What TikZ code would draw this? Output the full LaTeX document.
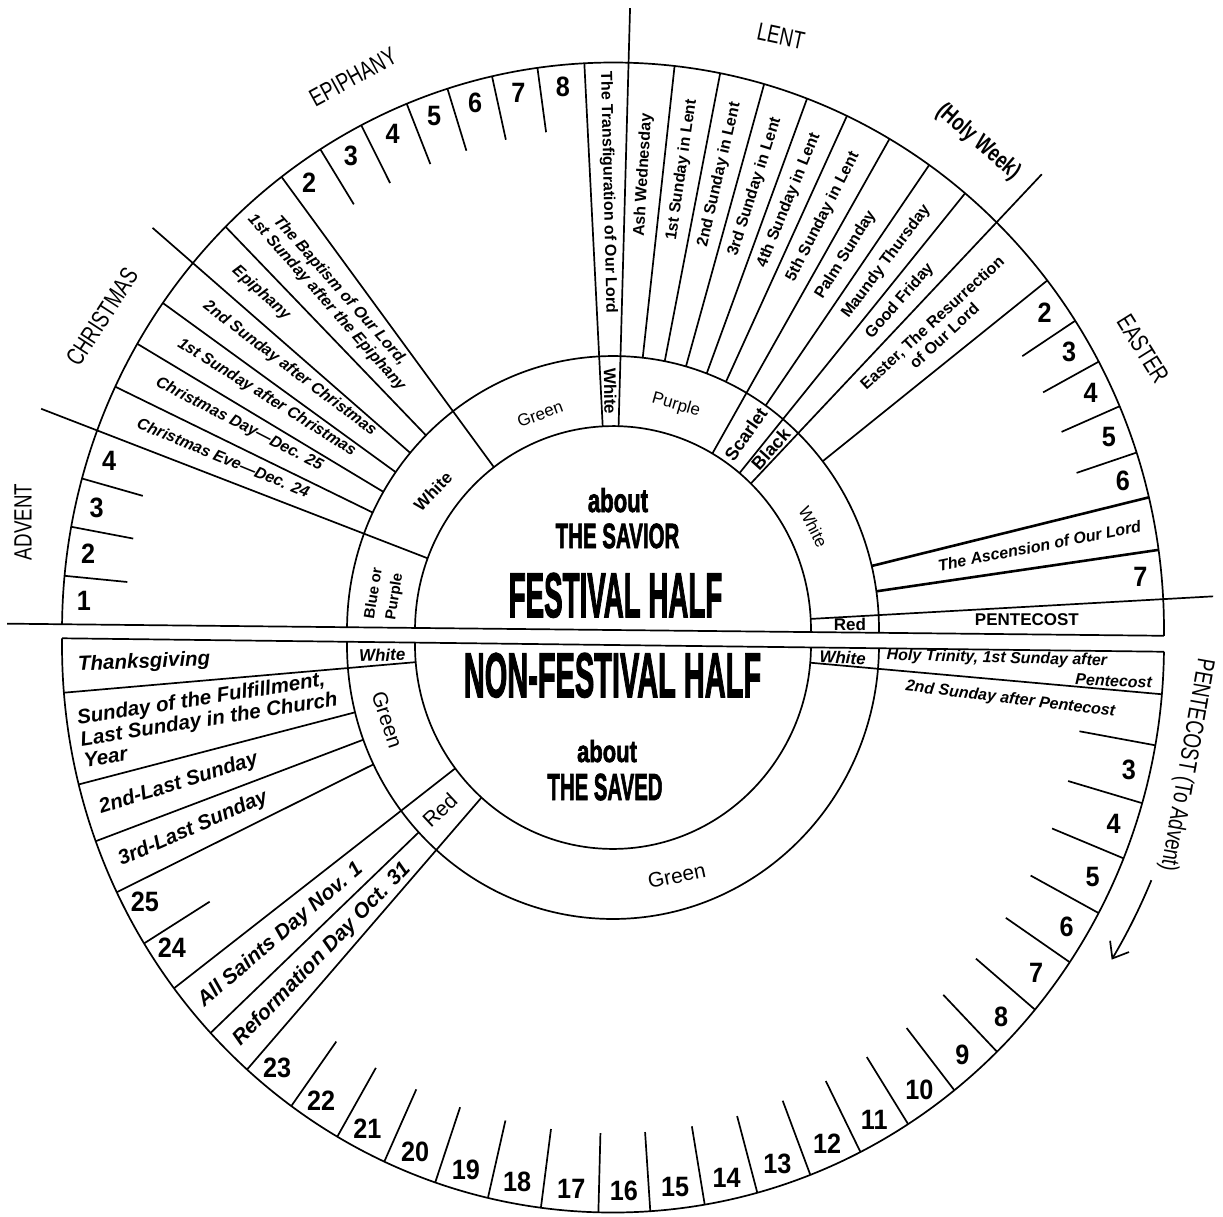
\documentclass[tikz,border=0pt]{standalone}
\usepackage{fontspec}
\setmainfont{Liberation Sans}
\newfontfamily\seasonfont[FakeStretch=0.75]{Liberation Sans}
\newfontfamily\numfont[FakeStretch=0.9]{Liberation Sans}
\newfontfamily\heavyfont[BoldFeatures={FakeBold=2.5}]{Liberation Sans}
\usepackage{graphicx}
\usetikzlibrary{arrows.meta}
\begin{document}
\begin{tikzpicture}[x=1pt,y=1pt, line width=1.7pt,
  txt/.style={inner sep=0pt, font=\fontsize{16}{18}\selectfont\bfseries},
  txti/.style={inner sep=0pt, font=\fontsize{16}{18}\selectfont\bfseries\itshape},
  lowtxt/.style={inner sep=0pt, font=\fontsize{20.5}{21.5}\selectfont\bfseries\itshape},
  numtxt/.style={inner sep=0pt, font=\numfont\fontsize{28}{28}\selectfont\bfseries},
  seasontxt/.style={inner sep=0pt, font=\seasonfont\fontsize{25}{25}\selectfont},
  ringtxt/.style={inner sep=0pt, font=\fontsize{17}{17}\selectfont},
  ringbold/.style={inner sep=0pt, font=\fontsize{17}{17}\selectfont\bfseries},
  ringbi/.style={inner sep=0pt, font=\fontsize{17}{17}\selectfont\bfseries\itshape},
  lowring/.style={inner sep=0pt, font=\fontsize{21}{21}\selectfont},
  centertxt/.style={inner sep=0pt, anchor=base},
  thick line/.style={line width=2.6pt}
]
\useasboundingbox (0,0) rectangle (1223,-1216);

% ================= UPPER (FESTIVAL) HALF =================
\begin{scope}[shift={(613,-630)}, rotate=-0.6, yscale=1.03]
  \draw (0:551) arc[start angle=0, end angle=180, radius=551];
  \draw (0:266) arc[start angle=0, end angle=180, radius=266];
  \draw (0:198) arc[start angle=0, end angle=180, radius=198];
  \draw (180:606) -- (0:551);
  % season dividers
  \draw (160:198) -- (160:611);
  \draw (140.3:266) -- (140.3:604);
  \draw (89:198) -- (89:604);
  \draw (46.5:198) -- (46.5:616);
  \draw (3.7:198) -- (3.7:601);
  % boxes
  \foreach \a in {155.2,150.3,145.4,135.3,84.2,79.4,74.7,70.0,65.5,55.6,38.6}
    \draw (\a:266) -- (\a:551);
  \foreach \a in {127.6,93.6,60.5,50.9}
    \draw (\a:198) -- (\a:551);
  \draw[thick line] (14.1:266) -- (14.1:551);
  \draw[thick line] (8.7:266) -- (8.7:551);
  % ticks
  \foreach \a in {175.1,170.1,165.1,122.7,117.8,112.6,108.1,103.3,98.5,33.6,28.8,23.8,18.8}
    \draw (\a:488) -- (\a:551);
  % numbers
  \foreach \a/\n [count=\i] in {177.55/1,172.6/2,167.6/3,162.55/4,125.6/2,120.25/3,115.2/4,110.35/5,105.7/6,100.9/7,96.05/8,36.1/2,31.2/3,26.3/4,21.3/5,16.45/6,6.2/7}
    \node[numtxt] (un\i) at (\a:530) {\n};
  % Christmas texts
  \foreach \a/\t [count=\i] in {157.6/Christmas Eve—Dec. 24, 152.75/Christmas Day—Dec. 25, 147.85/1st Sunday after Christmas, 142.85/2nd Sunday after Christmas, 137.8/Epiphany}
    \node[txti, anchor=west, rotate=\a-180] (cx\i) at (\a:517) {\t};
  \node[txti, rotate=-48.55, align=center] (baptism) at (131.45:428)
    {The Baptism of Our Lord,\\1st Sunday after the Epiphany};
  \node[txt, rotate=-88.7] (transf) at (91.3:425) {The Transfiguration of Our Lord};
  % Lent texts
  \foreach \a/\t [count=\i] in {86.6/Ash Wednesday, 81.8/1st Sunday in Lent, 77.05/2nd Sunday in Lent, 72.35/3rd Sunday in Lent, 67.75/4th Sunday in Lent, 63/5th Sunday in Lent, 58.05/Palm Sunday, 53.25/Maundy Thursday, 48.7/Good Friday}
    \node[txt, anchor=west, rotate=\a] (lx\i) at (\a:382) {\t};
  \node[txt, rotate=42.55, align=center] (easterday) at (42.55:437)
    {Easter, The Resurrection\\of Our Lord};
  \node[txti, anchor=east, rotate=11] (ascension) at (11.4:538) {The Ascension of Our Lord};
  \node[txt, font=\fontsize{17}{17}\selectfont\bfseries] (pentecost) at (1.94:414) {PENTECOST};
  % colour ring
  \node[inner sep=0pt, font=\fontsize{15}{21}\selectfont\bfseries, rotate=81, align=center] (bluepurple) at (172.1:231) {Blue or\\Purple};
  \node[ringbold, rotate=46] (whiteC) at (143.8:225) {White};
  \node[ringtxt, rotate=20] (greenE) at (109.8:222) {Green};
  \node[ringbold, rotate=-89] (whiteT) at (91.3:232) {White};
  \node[ringtxt, rotate=-16] (purpleL) at (74.5:227) {Purple};
  \node[ringbold, font=\fontsize{18}{18}\selectfont\bfseries, rotate=55] (scarlet) at (55.7:232) {Scarlet};
  \node[ringbold, font=\fontsize{18}{18}\selectfont\bfseries, rotate=48] (black) at (48.7:236) {Black};
  \node[ringtxt, rotate=-63] (whiteEa) at (27.2:224) {White};
  \node[ringbold] (redP) at (1.85:237) {Red};
\end{scope}

% ================= LOWER (NON-FESTIVAL) HALF =================
\begin{scope}[shift={(613,-645)}, rotate=-0.7, yscale=1.03]
  \draw (180:551) arc[start angle=180, end angle=360, radius=551];
  \draw (180:266) arc[start angle=180, end angle=360, radius=266];
  \draw (180:198) arc[start angle=180, end angle=360, radius=198];
  \draw (180:551) -- (0:551);
  \foreach \a in {185.5,217.9,229.1,355.7}
    \draw (\a:198) -- (\a:551);
  \foreach \a in {194.9,200.9,206.5,223.8}
    \draw (\a:266) -- (\a:551);
  \foreach \a in {212.4,235.0,240.7,246.2,251.9,257.6,263.2,269.2,274.6,280.3,285.9,291.7,297.4,303.1,309.0,314.9,320.7,326.7,332.5,338.6,344.5,350.5}
    \draw (\a:474) -- (\a:551);
  \foreach \a/\n [count=\i] in {208.7/25,214.4/24,231.4/23,237.3/22,243.1/21,248.8/20,254.6/19,260.3/18,266.2/17,271.9/16,277.45/15,283.1/14,288.8/13,294.55/12,300.25/11,306.05/10,311.95/9,317.8/8,323.7/7,329.6/6,335.55/5,341.55/4,347.5/3}
    \node[numtxt] (ln\i) at (\a:530) {\n};
  % texts
  \node[lowtxt, anchor=west, rotate=2.5] (thanks) at (182.8:536) {Thanksgiving};
  \node[lowtxt, anchor=west, rotate=9, align=left] (fulfil) at (190.4:541)
    {Sunday of the Fulfillment,\\Last Sunday in the Church\\Year};
  \node[lowtxt, anchor=west, rotate=17.5] (last2) at (197.9:538) {2nd-Last Sunday};
  \node[lowtxt, anchor=west, rotate=23.5] (last3) at (203.7:537) {3rd-Last Sunday};
  \node[lowtxt, font=\fontsize{21}{21}\selectfont\bfseries\itshape, anchor=west, rotate=40.5] (allsaints) at (220.85:540) {All Saints Day Nov. 1};
  \node[lowtxt, font=\fontsize{21}{21}\selectfont\bfseries\itshape, anchor=west, rotate=46] (reform) at (226.45:540) {Reformation Day Oct. 31};
  \node[txti, anchor=west, rotate=-1.5] (trinity) at (358.5:273) {Holy Trinity, 1st Sunday after};
  \node[txti, anchor=east, rotate=-2.5] (trinityb) at (356.8:541) {Pentecost};
  \node[txti, rotate=-7] (pent2) at (353.1:401) {2nd Sunday after Pentecost};
  % colour ring
  \node[ringbi, rotate=2] (whiteL) at (183.1:231) {White};
  \node[ringbi, rotate=-2] (whiteR) at (357.6:230) {White};
  \node[lowring, rotate=-72] (greenL) at (198.5:237) {Green};
  \node[lowring, rotate=43] (redL) at (223.5:236) {Red};
  \node[lowring, rotate=12] (greenB) at (286.6:233) {Green};
  % arrow
  \draw[-{Straight Barb[length=14pt,width=22pt]}] (337.7:585) arc[start angle=337.7, end angle=329.2, radius=585];
\end{scope}

% ================= CENTRE =================
\node[centertxt, font=\heavyfont\bfseries\fontsize{33}{33}\selectfont] (about1) at (618,-512) {\scalebox{0.67}[1]{about}};
\node[centertxt, font=\heavyfont\bfseries\fontsize{35}{35}\selectfont] (savior) at (617.5,-548) {\scalebox{0.585}[1]{THE SAVIOR}};
\node[centertxt, font=\heavyfont\bfseries\fontsize{63}{63}\selectfont] (festival) at (615.5,-617) {\scalebox{0.44}[1]{FESTIVAL HALF}};
\node[centertxt, font=\heavyfont\bfseries\fontsize{63}{63}\selectfont] (nonfestival) at (612.5,-697) {\scalebox{0.46}[1]{NON-FESTIVAL HALF}};
\node[centertxt, font=\heavyfont\bfseries\fontsize{30.5}{30.5}\selectfont] (about2) at (607,-762) {\scalebox{0.72}[1]{about}};
\node[centertxt, font=\heavyfont\bfseries\fontsize{37.7}{37.7}\selectfont] (saved) at (605,-800) {\scalebox{0.54}[1]{THE SAVED}};

% ================= SEASONS =================
\node[seasontxt, rotate=90] (advent) at (23,-522) {ADVENT};
\node[seasontxt, rotate=57] (christmas) at (102,-317) {CHRISTMAS};
\node[seasontxt, rotate=28.5] (epiphany) at (353,-77) {EPIPHANY};
\node[seasontxt, rotate=-12] (lent) at (781,-36) {LENT};
\node[seasontxt, font=\seasonfont\fontsize{24}{24}\selectfont\bfseries, rotate=-41] (holyweek) at (978,-142) {(Holy Week)};
\node[seasontxt, rotate=-58] (easter) at (1143,-349) {EASTER};
\node[seasontxt, rotate=-100] (pentadv) at (1186,-765) {PENTECOST (To Advent)};
\end{tikzpicture}
\end{document}
